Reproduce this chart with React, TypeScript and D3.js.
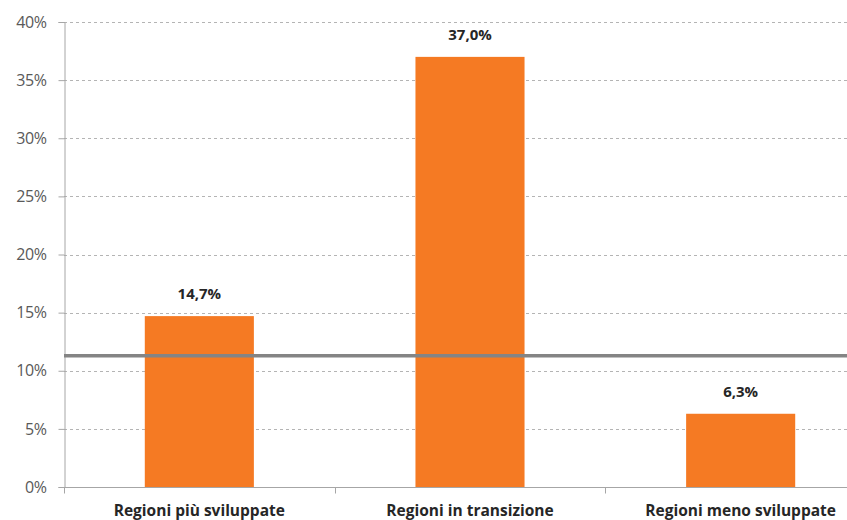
import React, { useEffect, useRef } from "react";
import * as d3 from "d3";

const categories = ["Regioni più sviluppate", "Regioni in transizione", "Regioni meno sviluppate"];
const values = [14.7, 37.0, 6.3];
const valueLabels = ["14,7%", "37,0%", "6,3%"];
const yTicks = [0, 5, 10, 15, 20, 25, 30, 35, 40];
const referenceValue = 11.3;

const W = 847;
const H = 520;
const M = { left: 64, right: -29, top: 22, bottom: 33 };

export default function App() {
  const ref = useRef<SVGSVGElement | null>(null);
  useEffect(() => {
    document.body.style.margin = "0";
    const svg = d3.select(ref.current);
    svg.selectAll("*").remove();
    const x = d3
      .scaleBand<string>()
      .domain(categories)
      .range([M.left, W - M.right])
      .paddingInner(0.597)
      .paddingOuter(0.2985);
    const y = d3.scaleLinear().domain([0, 40]).range([H - M.bottom, M.top]);
    const font = "'Open Sans', sans-serif";

    // gridlines
    svg
      .append("g")
      .selectAll("line")
      .data(yTicks.filter((t) => t > 0))
      .join("line")
      .attr("x1", M.left)
      .attr("x2", W)
      .attr("y1", (d) => Math.round(y(d)) + 0.5)
      .attr("y2", (d) => Math.round(y(d)) + 0.5)
      .attr("stroke", "#b4b4b4")
      .attr("stroke-dasharray", "3,3");

    // y axis
    const yAxis = d3
      .axisLeft(y)
      .tickValues(yTicks)
      .tickSize(6)
      .tickPadding(12)
      .tickFormat((d) => `${d}%`);
    const gy = svg.append("g").attr("transform", `translate(${M.left + 0.5},0)`).call(yAxis);
    gy.select(".domain").attr("stroke", "#a6a6a6");
    gy.selectAll(".tick line").attr("stroke", "#a6a6a6");
    gy.selectAll("text")
      .attr("font-family", font)
      .attr("font-size", 16)
      .attr("letter-spacing", -0.4)
      .attr("fill", "#595959");

    // bars
    svg
      .append("g")
      .selectAll("rect")
      .data(values)
      .join("rect")
      .attr("x", (_, i) => x(categories[i])!)
      .attr("width", x.bandwidth())
      .attr("y", (d) => y(d))
      .attr("height", (d) => y(0) - y(d))
      .attr("fill", "#F57A23");

    // value labels
    svg
      .append("g")
      .selectAll("text")
      .data(values)
      .join("text")
      .attr("x", (_, i) => x(categories[i])! + x.bandwidth() / 2)
      .attr("y", (d) => y(d) - 17)
      .attr("text-anchor", "middle")
      .attr("font-family", font)
      .attr("font-weight", "bold")
      .attr("font-size", 15)
      .attr("fill", "#262626")
      .text((_, i) => valueLabels[i]);

    // x axis
    const gx = svg.append("g").attr("transform", `translate(0,${Math.round(y(0)) + 0.5})`);
    gx.append("line").attr("x1", M.left).attr("x2", W).attr("stroke", "#a6a6a6");
    const step = x.step();
    gx.selectAll("line.tk")
      .data([0, 1, 2])
      .join("line")
      .attr("class", "tk")
      .attr("x1", (i) => Math.round(M.left + i * step) + 0.5)
      .attr("x2", (i) => Math.round(M.left + i * step) + 0.5)
      .attr("y1", 0)
      .attr("y2", 6)
      .attr("stroke", "#a6a6a6");
    gx.selectAll("text")
      .data(categories)
      .join("text")
      .attr("x", (d) => x(d)! + x.bandwidth() / 2)
      .attr("y", 28)
      .attr("text-anchor", "middle")
      .attr("font-family", font)
      .attr("font-weight", "bold")
      .attr("font-size", 15.5)
      .attr("fill", "#262626")
      .text((d) => d);

    // reference line
    svg
      .append("line")
      .attr("x1", M.left)
      .attr("x2", W)
      .attr("y1", y(referenceValue))
      .attr("y2", y(referenceValue))
      .attr("stroke", "#848484")
      .attr("stroke-width", 3.5);
  }, []);
  return <svg ref={ref} width={W} height={H} style={{ display: "block", background: "#fff" }} />;
}
